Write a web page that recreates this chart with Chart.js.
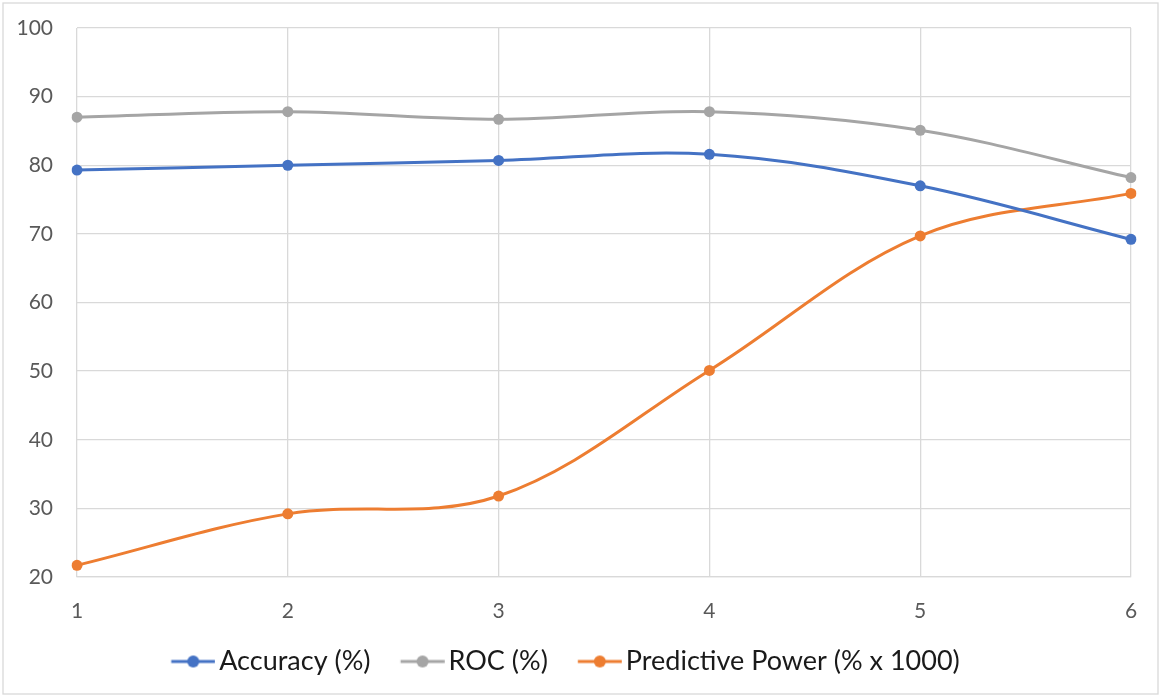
<!DOCTYPE html>
<html>
<head>
<meta charset="utf-8">
<script src="https://cdn.jsdelivr.net/npm/chart.js@4/dist/chart.umd.min.js"></script>
<style>
  html, body { margin: 0; padding: 0; background: #fff; }
  #wrap { width: 1160px; height: 695px; position: relative; }
</style>
</head>
<body>
<div id="wrap"><canvas id="chart"></canvas></div>
<script>
// === Data ===
const labels     = ['1', '2', '3', '4', '5', '6'];
const accuracy   = [79.3, 80.0, 80.7, 81.6, 77.0, 69.2];
const roc        = [87.0, 87.8, 86.7, 87.8, 85.1, 78.2];
const predPower  = [21.7, 29.2, 31.8, 50.1, 69.7, 75.9];

const BLUE = '#4472C4', GRAY = '#A5A5A5', ORANGE = '#ED7D31';
const LEG_SIZE = 27;
const MARK_W = 44;                          // visible marker length
const BOX_W = MARK_W - (LEG_SIZE / 2 - 4);  // so text sits ~4px after the marker

// legend marker: short line with a dot, drawn off-centre so the gap to the text stays small
function legendMarker(color){
  const half = MARK_W - BOX_W / 2;
  const c = document.createElement('canvas');
  c.width = Math.ceil(half * 2); c.height = 14;
  const g = c.getContext('2d');
  const x0 = c.width / 2 - BOX_W / 2;
  g.strokeStyle = color; g.lineWidth = 3;
  g.beginPath(); g.moveTo(x0, 7); g.lineTo(x0 + MARK_W, 7); g.stroke();
  g.fillStyle = color;
  g.beginPath(); g.arc(x0 + MARK_W / 2, 7, 6, 0, Math.PI * 2); g.fill();
  return c;
}

function makeSet(label, data, color){
  return {
    label, data,
    borderColor: color, backgroundColor: color,
    borderWidth: 3, pointRadius: 5.5, pointHoverRadius: 5.5,
    pointBorderWidth: 0, tension: 0.35, fill: false,
    marker: legendMarker(color)
  };
}

// outer border of the chart
const frame = {
  id: 'frame',
  beforeDraw(chart){
    const ctx = chart.ctx;
    ctx.save();
    ctx.strokeStyle = '#D9D9D9'; ctx.lineWidth = 1.3;
    ctx.strokeRect(3, 3, chart.width - 5, chart.height - 4);
    ctx.restore();
  }
};

const tickFont = { family: 'Lato', size: 21 };

new Chart(document.getElementById('chart'), {
  type: 'line',
  data: {
    labels,
    datasets: [
      makeSet('Accuracy (%)', accuracy, BLUE),
      makeSet('ROC (%)', roc, GRAY),
      makeSet('Predictive Power (% x 1000)', predPower, ORANGE)
    ]
  },
  options: {
    responsive: true, maintainAspectRatio: false,
    animation: false,
    layout: { padding: { top: 28, right: 29, left: 0, bottom: 10 } },
    plugins: {
      tooltip: { enabled: false },
      legend: {
        position: 'bottom',
        labels: {
          usePointStyle: true,
          pointStyleWidth: BOX_W,
          padding: 30,
          color: '#1a1a1a',
          font: { family: 'Lato', size: LEG_SIZE },
          generateLabels: (chart) => chart.data.datasets.map((ds, i) => ({
            text: ds.label,
            pointStyle: ds.marker,
            fillStyle: ds.borderColor,
            strokeStyle: ds.borderColor,
            lineWidth: 0,
            hidden: false,
            datasetIndex: i,
            fontColor: '#1a1a1a'
          }))
        }
      }
    },
    scales: {
      x: {
        offset: false,
        grid: { color: '#D9D9D9', lineWidth: 1.3, drawTicks: false, offset: false },
        border: { color: '#D9D9D9', width: 1.3 },
        ticks: { color: '#595959', font: tickFont, padding: 22 },
        afterFit: (s) => { s.height = 41; s.paddingLeft = 0; s.paddingRight = 0; }
      },
      y: {
        min: 20, max: 100,
        grid: { color: '#D9D9D9', lineWidth: 1.3, drawTicks: false },
        border: { display: false },
        ticks: { stepSize: 10, color: '#595959', font: tickFont, padding: 24 },
        afterFit: (s) => { s.width = 77; s.paddingTop = 0; s.paddingBottom = 0; }
      }
    }
  },
  plugins: [frame]
});
</script>
</body>
</html>
